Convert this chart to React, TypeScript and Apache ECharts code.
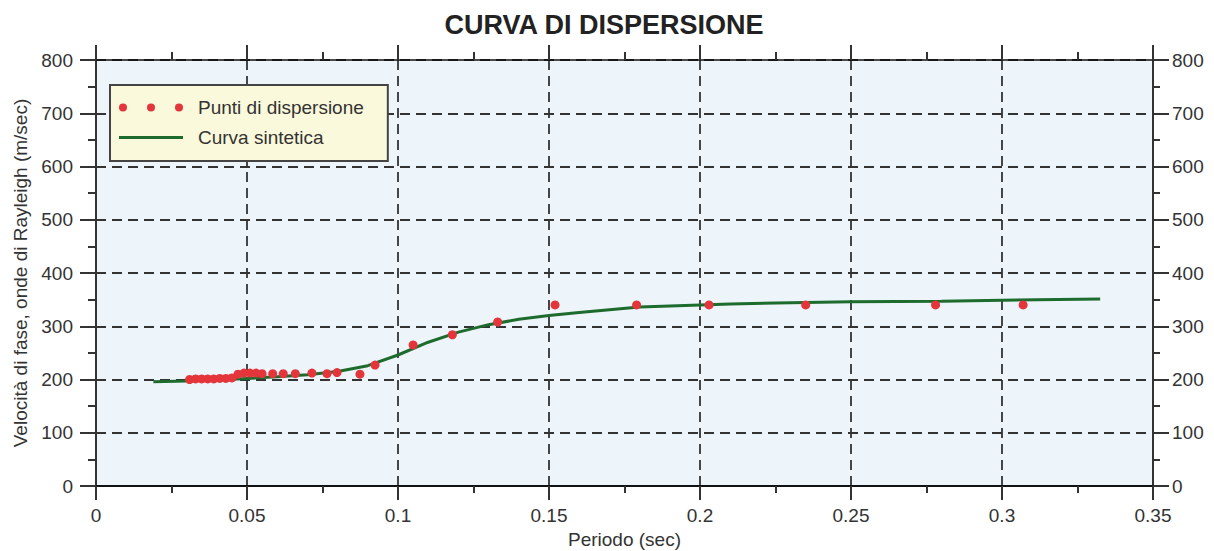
import React, { useEffect, useRef } from "react";
import * as echarts from "echarts";

const title = "CURVA DI DISPERSIONE";
const xName = "Periodo (sec)";
const yName = "Velocità di fase, onde di Rayleigh (m/sec)";
const pointName = "Punti di dispersione";
const curveName = "Curva sintetica";

const pointPeriods = [
  0.031, 0.033, 0.035, 0.037, 0.039, 0.041, 0.043, 0.045, 0.047, 0.049, 0.051,
  0.053, 0.055, 0.0585, 0.0620, 0.0660, 0.0715, 0.0765, 0.0798, 0.0874, 0.0924,
  0.105, 0.118, 0.133, 0.152, 0.179, 0.203, 0.235, 0.278, 0.307,
];
const pointVelocities = [
  200, 201, 201, 201, 201, 202, 202, 203, 210, 212, 212, 212, 211, 211, 211, 211,
  212, 211, 213, 210, 227, 265, 284, 308, 340, 340, 340, 340, 340, 340,
];

const curvePeriods = [
  0.019, 0.03, 0.04, 0.05, 0.06, 0.07, 0.08, 0.09, 0.1, 0.11, 0.12, 0.13, 0.14,
  0.15, 0.16, 0.17, 0.18, 0.19, 0.2, 0.21, 0.23, 0.25, 0.28, 0.3, 0.3325,
];
const curveVelocities = [
  196, 197, 199, 202, 205, 209, 215, 226, 246, 270, 289, 303, 313, 320, 326, 331,
  336, 338, 340, 342, 344, 346, 347, 349, 351,
];

const dotsIcon =
  "path://M0,4a4,4 0 1,0 8,0a4,4 0 1,0 -8,0M28,4a4,4 0 1,0 8,0a4,4 0 1,0 -8,0M56,4a4,4 0 1,0 8,0a4,4 0 1,0 -8,0";
const lineIcon = "path://M0,0H64V3H0Z";

const RED = "#e4353b";
const GREEN = "#1e6b2e";
const FONT = "Liberation Sans, Arial, sans-serif";

export default function App() {
  const ref = useRef<HTMLDivElement>(null);
  useEffect(() => {
    if (!ref.current) return;
    const chart = echarts.init(ref.current, null, { renderer: "svg" });
    const axisLabel = { color: "#333", fontSize: 19, fontFamily: FONT };
    const gridDash = {
      show: true,
      lineStyle: { color: "#333", width: 1.8, type: [10, 6] as any },
    };
    const points = pointPeriods.map((p, i) => [p, pointVelocities[i]]);
    const curve = curvePeriods.map((p, i) => [p, curveVelocities[i]]);
    chart.setOption({
      animation: false,
      backgroundColor: "#ffffff",
      title: {
        text: title,
        left: 599,
        top: 6,
        textAlign: "center",
        textStyle: { fontSize: 27, fontWeight: "bold", color: "#222", fontFamily: FONT },
      },
      grid: {
        left: 96,
        right: 61,
        top: 60,
        bottom: 65,
        outerBoundsMode: "none",
        containLabel: false,
        show: true,
        backgroundColor: "#edf5fa",
        borderWidth: 0,
      },
      legend: {
        orient: "vertical",
        left: 110,
        top: 85,
        padding: [13, 24, 14, 9],
        itemGap: 11,
        itemWidth: 64,
        itemHeight: 8,
        backgroundColor: "#fbf9dc",
        borderColor: "#444",
        borderWidth: 2,
        borderRadius: 0,
        textStyle: { fontSize: 19, color: "#333", fontFamily: FONT, padding: [0, 0, 0, 10] },
        data: [
          { name: pointName, icon: dotsIcon, itemStyle: { color: RED, borderWidth: 0 } },
          { name: curveName, icon: lineIcon, itemStyle: { color: GREEN, borderWidth: 0 } },
        ],
      },
      xAxis: [
        {
          type: "value",
          position: "bottom",
          min: 0,
          max: 0.35,
          interval: 0.05,
          name: xName,
          nameLocation: "middle",
          nameGap: 37,
          nameTextStyle: { fontSize: 19, color: "#333", fontFamily: FONT },
          axisLine: { show: true, onZero: false, lineStyle: { color: "#111", width: 2 } },
          axisTick: { show: true, length: 14, lineStyle: { color: "#333", width: 2 } },
          minorTick: { show: true, splitNumber: 2, length: 7, lineStyle: { color: "#333", width: 2 } },
          axisLabel: { ...axisLabel, margin: 20 },
          splitLine: gridDash,
        },
        {
          type: "value",
          position: "top",
          min: 0,
          max: 0.35,
          interval: 0.05,
          axisLine: { show: true, onZero: false, lineStyle: { color: "#111", width: 1.5 } },
          axisTick: { show: true, length: 15, lineStyle: { color: "#333", width: 2 } },
          minorTick: { show: true, splitNumber: 2, length: 8, lineStyle: { color: "#333", width: 2 } },
          axisLabel: { show: false },
          splitLine: { show: false },
        },
      ],
      yAxis: [
        {
          type: "value",
          position: "left",
          min: 0,
          max: 800,
          interval: 100,
          name: yName,
          nameLocation: "middle",
          nameGap: 65,
          nameTextStyle: { fontSize: 19, color: "#333", fontFamily: FONT },
          axisLine: { show: true, onZero: false, lineStyle: { color: "#333", width: 2 } },
          axisTick: { show: true, length: 16, lineStyle: { color: "#333", width: 2 } },
          minorTick: { show: true, splitNumber: 2, length: 8, lineStyle: { color: "#333", width: 2 } },
          axisLabel: { ...axisLabel, margin: 23 },
          splitLine: gridDash,
        },
        {
          type: "value",
          position: "right",
          min: 0,
          max: 800,
          interval: 100,
          axisLine: { show: true, onZero: false, lineStyle: { color: "#333", width: 2 } },
          axisTick: { show: true, length: 16, lineStyle: { color: "#333", width: 2 } },
          minorTick: { show: true, splitNumber: 2, length: 7, lineStyle: { color: "#333", width: 2 } },
          axisLabel: { ...axisLabel, margin: 19 },
          splitLine: { show: false },
        },
      ],
      series: [
        {
          name: curveName,
          type: "line",
          data: curve,
          showSymbol: false,
          symbol: "none",
          lineStyle: { color: GREEN, width: 3 },
          itemStyle: { color: GREEN },
          z: 2,
        },
        {
          name: pointName,
          type: "scatter",
          data: points,
          symbolSize: 9,
          itemStyle: { color: RED, opacity: 1 },
          z: 3,
        },
      ],
    });
    return () => chart.dispose();
  }, []);
  return (
    <div
      ref={ref}
      style={{ position: "absolute", left: 0, top: 0, width: 1214, height: 551 }}
    />
  );
}
